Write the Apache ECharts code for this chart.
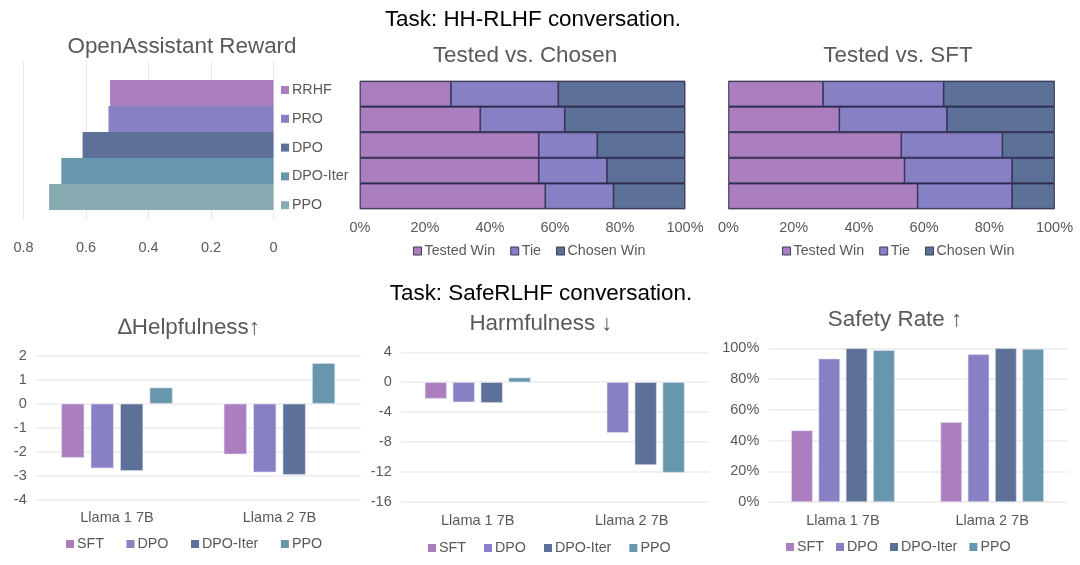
<!DOCTYPE html>
<html>
<head>
<meta charset="utf-8">
<title>Task charts</title>
<script src="https://cdn.jsdelivr.net/npm/echarts@6/dist/echarts.min.js"></script>
<style>
html, body { margin: 0; padding: 0; background: #fff; }
#main { width: 1080px; height: 565px; }
</style>
</head>
<body>
<div id="main"></div>
<script>
//OpenAssistant Reward
var rewardNames = ['RRHF', 'PRO', 'DPO', 'DPO-Iter', 'PPO'];
var rewardValues = [0.523, 0.528, 0.611, 0.679, 0.718];
var rewardTicks = [0, 0.2, 0.4, 0.6, 0.8];
//Tested vs. xxx
var rowNames = ['RRHF', 'PRO', 'DPO', 'DPO-Iter', 'PPO'];
var chosenTested = [28, 37, 55, 55, 57];
var chosenTie = [33, 26, 18, 21, 21];
var chosenChosen = [39, 37, 27, 24, 22];
var sftTested = [29, 34, 53, 54, 58];
var sftTie = [37, 33, 31, 33, 29];
var sftChosen = [34, 33, 16, 13, 13];
//SafeRLHF
var models = ['Llama 1 7B', 'Llama 2 7B'];
var safeNames = ['SFT', 'DPO', 'DPO-Iter', 'PPO'];
var helpSft = [-2.25, -2.11];
var helpDpo = [-2.69, -2.86];
var helpIter = [-2.8, -2.96];
var helpPpo = [0.67, 1.69];
var harmSft = [-2.2, null];
var harmDpo = [-2.67, -6.77];
var harmIter = [-2.76, -11.05];
var harmPpo = [0.62, -12.07];
var rateSft = [46.6, 52];
var rateDpo = [93.3, 96.1];
var rateIter = [100, 100];
var ratePpo = [98.7, 99.6];

var FONT = '"Liberation Sans", Arial, sans-serif';
var GREY = '#595959';
var PURPLE = '#ab7fbf', VIOLET = '#8780c4', NAVY = '#5d7097', TEAL = '#6796ad', SAGE = '#88abb2';
var rewardColors = [PURPLE, VIOLET, NAVY, TEAL, SAGE];
var safeColors = [PURPLE, VIOLET, NAVY, TEAL];
var winColors = [PURPLE, VIOLET, NAVY];

var grids = [], xAxes = [], yAxes = [], series = [], legends = [];

function heading(text, x, y, size, color) {
	return {
		text: text, left: x, top: y, textAlign: 'center', textVerticalAlign: 'middle', padding: 0,
		textStyle: { fontFamily: FONT, fontSize: size, fontWeight: 'normal', color: color || GREY }
	};
}
function legendOf(names, colors, left, top, gap, border) {
	legends.push({
		left: left, top: top, padding: 0, itemGap: gap, itemWidth: 8, itemHeight: 8,
		icon: 'rect', selectedMode: false,
		textStyle: { fontFamily: FONT, fontSize: 14.3, color: GREY, padding: [0, 0, 0, -2] },
		data: names.map(function(n, i) {
			return { name: n, itemStyle: { color: colors[i], borderColor: border || colors[i], borderWidth: border ? 1 : 0 } };
		})
	});
}

//奖励图，网格线比柱子区域更高，所以分两个grid
grids.push({ left: 23.5, width: 250, top: 61, height: 159 });
xAxes.push({
	gridIndex: 0, type: 'value', min: 0, max: 0.8, interval: 0.2, inverse: true,
	axisLine: { show: false }, axisTick: { show: false },
	splitLine: { lineStyle: { color: '#e9e6ec', width: 1 } },
	axisLabel: {
		margin: 20, fontFamily: FONT, fontSize: 14.5, color: GREY,
		formatter: function(v) { return rewardTicks.indexOf(v) == 0 ? '0' : v.toFixed(1); }
	}
});
yAxes.push({ gridIndex: 0, type: 'category', data: rowNames, show: false });
grids.push({ left: 23.5, width: 250, top: 80, height: 130 });
xAxes.push({ gridIndex: 1, type: 'value', min: 0, max: 0.8, inverse: true, show: false });
yAxes.push({ gridIndex: 1, type: 'category', data: rewardNames, inverse: true, show: false });
rewardNames.forEach(function(name, i) {
	series.push({
		name: name, type: 'bar', xAxisIndex: 1, yAxisIndex: 1, stack: 'reward', barWidth: '100%',
		itemStyle: { color: rewardColors[i] },
		data: rewardValues.map(function(v, j) { return j == i ? v : null; })
	});
});
legendOf(rewardNames, rewardColors, 281, 83, 14.8);
legends[0].orient = 'vertical';

//100%堆叠图，grid背景填深色，柱子之间就只剩一条深色分隔线
function addStack(left, width, values, legendLeft) {
	var idx = grids.length;
	grids.push({
		left: left, width: width, top: 81, height: 128,
		show: true, backgroundColor: '#2f2f52', borderColor: '#6f6f80', borderWidth: 1
	});
	xAxes.push({
		gridIndex: idx, type: 'value', min: 0, max: 100, interval: 20,
		axisLine: { show: false }, axisTick: { show: false }, splitLine: { show: false },
		axisLabel: { margin: 11, fontFamily: FONT, fontSize: 14.5, color: GREY, formatter: '{value}%' }
	});
	yAxes.push({ gridIndex: idx, type: 'category', data: rowNames, inverse: true, show: false });
	var names = ['Tested Win', 'Tie', 'Chosen Win'];
	names.forEach(function(name, i) {
		series.push({
			name: name, type: 'bar', xAxisIndex: idx, yAxisIndex: idx, stack: 'win' + idx, barWidth: 25,
			itemStyle: { color: winColors[i], borderColor: '#2f2f52', borderWidth: 0.7 },
			data: values[i]
		});
	});
	legendOf(names, winColors, legendLeft, 244, 15, '#3d3d55');
}
addStack(360, 325, [chosenTested, chosenTie, chosenChosen], 413);
addStack(728.5, 326, [sftTested, sftTie, sftChosen], 782);

//分组柱状图
function addGroup(opt) {
	var idx = grids.length;
	grids.push({ left: opt.left, width: opt.width, top: opt.top, height: opt.height });
	xAxes.push({
		gridIndex: idx, type: 'category', data: models, position: 'bottom',
		axisLine: { show: false }, axisTick: { show: false },
		axisLabel: { margin: opt.margin, fontFamily: FONT, fontSize: 14.5, color: GREY }
	});
	yAxes.push({
		gridIndex: idx, type: 'value', min: opt.min, max: opt.max, interval: opt.interval,
		axisLine: { show: false }, axisTick: { show: false },
		splitLine: { lineStyle: { color: '#ebebee', width: 1.5 } },
		axisLabel: { margin: 9, fontFamily: FONT, fontSize: 14.5, color: GREY, formatter: opt.format || '{value}' }
	});
	safeNames.forEach(function(name, i) {
		series.push({
			name: name, type: 'bar', xAxisIndex: idx, yAxisIndex: idx,
			barWidth: opt.barWidth, barGap: opt.barGap,
			itemStyle: { color: safeColors[i], borderColor: '#e4e0ec', borderWidth: 0.6 },
			data: opt.values[i]
		});
	});
	legendOf(safeNames, safeColors, opt.legendLeft, opt.legendTop, opt.legendGap);
}
addGroup({
	left: 35.7, width: 325, top: 355.7, height: 144, min: -4, max: 2, interval: 1,
	margin: 11, barWidth: 23, barGap: '28%',
	values: [helpSft, helpDpo, helpIter, helpPpo],
	legendLeft: 66, legendTop: 537, legendGap: 22.5
});
addGroup({
	left: 400.7, width: 308, top: 352.3, height: 149.7, min: -16, max: 4, interval: 4,
	margin: 11, barWidth: 22, barGap: '27%',
	values: [harmSft, harmDpo, harmIter, harmPpo],
	legendLeft: 428, legendTop: 541, legendGap: 18
});
addGroup({
	left: 768.3, width: 298.5, top: 348.3, height: 153.7, min: 0, max: 100, interval: 20,
	margin: 11, barWidth: 21.5, barGap: '27%', format: '{value}%',
	values: [rateSft, rateDpo, rateIter, ratePpo],
	legendLeft: 786, legendTop: 540, legendGap: 12
});

var myChart = echarts.init(document.getElementById('main'), null, { renderer: 'canvas' });
myChart.setOption({
	animation: false,
	backgroundColor: '#fff',
	title: [
		heading('Task: HH-RLHF conversation.', 533, 20, 22.4, '#000'),
		heading('OpenAssistant Reward', 182, 47, 22.4),
		heading('Tested vs. Chosen', 525, 56, 22.4),
		heading('Tested vs. SFT', 898, 56, 22.4),
		heading('Task: SafeRLHF conversation.', 541, 294, 22.4, '#000'),
		heading('∆Helpfulness↑', 189, 328, 22.4),
		heading('Harmfulness ↓', 541, 324, 22.4),
		heading('Safety Rate ↑', 895, 320, 22.4)
	],
	tooltip: { show: false },
	legend: legends,
	grid: grids,
	xAxis: xAxes,
	yAxis: yAxes,
	series: series
});
</script>
</body>
</html>
